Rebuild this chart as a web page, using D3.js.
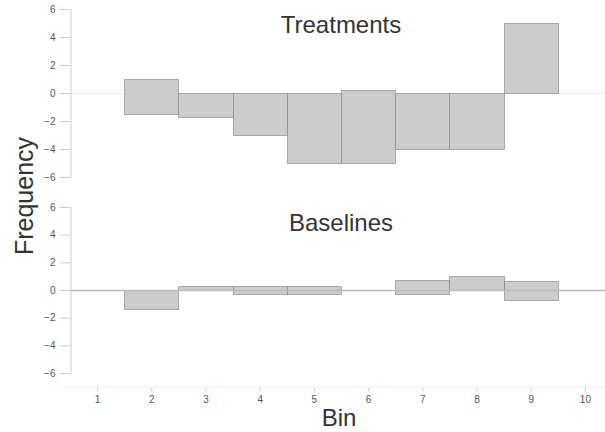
<!DOCTYPE html>
<html><head><meta charset="utf-8">
<script src="https://cdn.jsdelivr.net/npm/d3@7"></script>
<style>body{margin:0;background:#fff} svg{display:block} text{font-family:"Liberation Sans",Arial,Helvetica,sans-serif}</style>
</head><body>
<svg width="605" height="432"></svg>
<script>
const bins = [1, 2, 3, 4, 5, 6, 7, 8, 9, 10];
const yTicks = [-6, -4, -2, 0, 2, 4, 6];
const treatmentsHigh = [0, 1.0, 0, 0, 0, 0.2, 0, 0, 5.0, 0];
const treatmentsLow  = [0, -1.5, -1.7, -3.0, -5.0, -5.0, -4.0, -4.0, 0, 0];
const baselinesHigh  = [0, 0, 0.3, 0.3, 0.3, 0, 0.7, 1.0, 0.65, 0];
const baselinesLow   = [0, -1.4, 0, -0.3, -0.3, 0, -0.3, 0, -0.7, 0];

const svg = d3.select("svg");
const x = d3.scaleLinear().domain([0.5, 10.5]).range([70, 612]);

const panels = [
  {title: "Treatments", high: treatmentsHigh, low: treatmentsLow,
   y: d3.scaleLinear().domain([-6, 6]).range([177, 9]), titleY: 33, zeroColor: "#eeeeee", zeroW: 1, zeroOnTop: false},
  {title: "Baselines", high: baselinesHigh, low: baselinesLow,
   y: d3.scaleLinear().domain([-6, 6]).range([373, 207]), titleY: 231, zeroColor: "#bbbbbb", zeroW: 1.5, zeroOnTop: true}
];

panels.forEach(p => {
  const g = svg.append("g");
  const y = p.y;
  const drawZero = () => g.append("line")
    .attr("x1", 70).attr("x2", 605)
    .attr("y1", Math.round(y(0)) + 0.5).attr("y2", Math.round(y(0)) + 0.5)
    .attr("stroke", p.zeroColor).attr("stroke-width", p.zeroW);
  if (!p.zeroOnTop) drawZero();

  const data = bins.map((b, i) => ({b, hi: p.high[i], lo: p.low[i]})).filter(d => d.hi !== 0 || d.lo !== 0);
  g.selectAll("rect.bar").data(data).join("rect")
    .attr("class", "bar")
    .attr("x", d => Math.round(x(d.b - 0.5)) + 0.5)
    .attr("width", d => Math.round(x(d.b + 0.5)) - Math.round(x(d.b - 0.5)))
    .attr("y", d => Math.round(y(d.hi)) + 0.5)
    .attr("height", d => Math.round(y(d.lo)) - Math.round(y(d.hi)))
    .attr("fill", "#cccccc")
    .attr("stroke", "#777")
    .attr("stroke-opacity", 0.55)
    .attr("stroke-width", 1);

  if (p.zeroOnTop) drawZero();

  const ax = g.append("g").attr("transform", "translate(70.5,0)")
    .call(d3.axisLeft(y).tickValues(yTicks).tickSize(11).tickSizeOuter(0).tickPadding(4));
  ax.selectAll("path,line").attr("stroke", "#cccccc");
  ax.selectAll("text").attr("fill", "#555").style("font-size", "10px");

  g.append("text").attr("x", 341).attr("y", p.titleY)
    .attr("text-anchor", "middle").attr("fill", "#333")
    .style("font-size", "24px").text(p.title);
});

// x axis
svg.append("line").attr("x1", 64).attr("x2", 605).attr("y1", 387.5).attr("y2", 387.5).attr("stroke", "#eeeeee");
const xa = svg.append("g").attr("transform", "translate(0,387.5)")
  .call(d3.axisBottom(x).tickValues(bins).tickFormat(d3.format("d")).tickSize(4).tickSizeOuter(0).tickPadding(4));
xa.select(".domain").remove();
xa.selectAll("line").attr("stroke", "#cccccc");
xa.selectAll("text").attr("fill", "#555").style("font-size", "10px");

svg.append("text").attr("x", 339).attr("y", 426).attr("text-anchor", "middle")
  .attr("fill", "#333").style("font-size", "24px").text("Bin");
svg.append("text").attr("transform", "translate(33,196) rotate(-90)").attr("text-anchor", "middle")
  .attr("fill", "#333").style("font-size", "25px").text("Frequency");
</script>
</body></html>
